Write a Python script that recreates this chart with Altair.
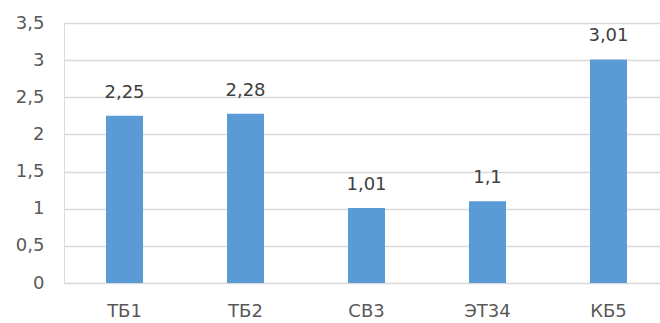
import altair as alt
import pandas as pd

categories = ["ТБ1", "ТБ2", "СВ3", "ЭТ34", "КБ5"]
values = [2.25, 2.28, 1.01, 1.1, 3.01]
labels = ["2,25", "2,28", "1,01", "1,1", "3,01"]
y_ticks = [0, 0.5, 1, 1.5, 2, 2.5, 3, 3.5]

df = pd.DataFrame({"cat": categories, "val": values, "lab": labels})

FONT = "DejaVu Sans"

x_enc = alt.X(
    "cat:N",
    sort=categories,
    scale=alt.Scale(paddingInner=0.694, paddingOuter=0.31, align=0.56),
    axis=alt.Axis(
        title=None, labelAngle=0, ticks=False, domain=False, grid=False,
        labelFont=FONT, labelFontSize=18, labelColor="#595959", labelPadding=19,
    ),
)

y_enc = alt.Y(
    "val:Q",
    scale=alt.Scale(domain=[0, 3.5], nice=False),
    axis=alt.Axis(
        title=None, values=y_ticks, ticks=False, domain=False,
        grid=True, gridColor="#D9D9D9", gridWidth=1.3, labelOverlap=False,
        labelFont=FONT, labelFontSize=18, labelColor="#595959", labelPadding=20,
        labelExpr="replace(format(datum.value, ''), '.', ',')",
    ),
)

base = alt.Chart(df).encode(x=x_enc, y=y_enc)

bars = base.mark_bar(color="#5B9BD5")

text = base.mark_text(
    font=FONT, fontSize=18, color="#404040", baseline="alphabetic", dy=-18
).encode(text="lab:N")

chart = (
    alt.layer(bars, text)
    .properties(
        width=596,
        height=260,
        autosize=alt.AutoSizeParams(type="none"),
        padding={"left": 64, "top": 23, "right": 0, "bottom": 40},
    )
    .configure_view(stroke="white", strokeWidth=0, fill="white")
    .configure(background="white")
)

chart.save("out.html", embed_options={"renderer": "svg", "actions": False})
